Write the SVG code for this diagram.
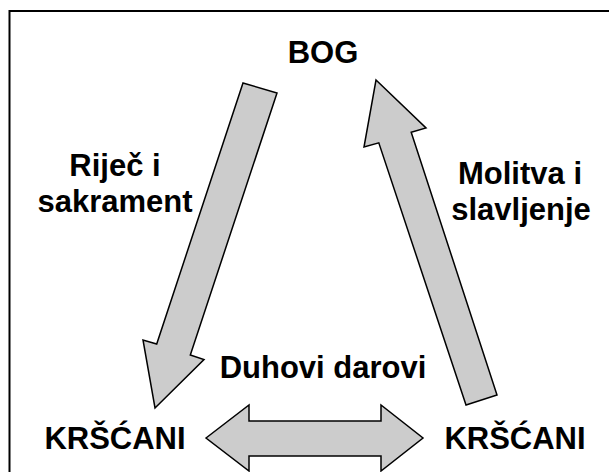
<svg xmlns="http://www.w3.org/2000/svg" width="609" height="472" viewBox="0 0 609 472">
<style>
.t{font-family:"Liberation Sans",Arial,sans-serif;font-weight:bold;font-size:31px;fill:#000;text-anchor:middle}
.ar{fill:#cccccc;stroke:#000;stroke-width:1.5;stroke-linejoin:miter}
</style>
<rect x="0" y="0" width="609" height="472" fill="#fff"/>
<rect x="9.5" y="11" width="620" height="480" fill="none" stroke="#000" stroke-width="2"/>
<g id="connectors">
<polygon id="arrow-word" class="ar" points="243,83 277,93 190.3,355 204,359.5 155,408 143,340 156.7,344"/>
<polygon id="arrow-prayer" class="ar" points="466,405 378.8,142.8 364,147 376,80 426,128 411.2,132.2 497,395"/>
<polygon id="arrow-gifts" class="ar" points="206,438 249,405 249,421 381,421 381,405 423,438 381,471 381,456 249,456 249,471"/>
</g>
<g id="bog"><text class="t" x="323" y="63">BOG</text></g>
<g id="krscani-left"><text class="t" x="115" y="449">KRŠĆANI</text></g>
<g id="krscani-right"><text class="t" x="515" y="449">KRŠĆANI</text></g>
<g id="label-word"><text class="t" x="115" y="176">Riječ i</text><text class="t" x="115" y="212">sakrament</text></g>
<g id="label-prayer"><text class="t" x="520" y="184">Molitva i</text><text class="t" x="521" y="220">slavljenje</text></g>
<g id="label-gifts"><text class="t" x="323" y="378">Duhovi darovi</text></g>
</svg>
